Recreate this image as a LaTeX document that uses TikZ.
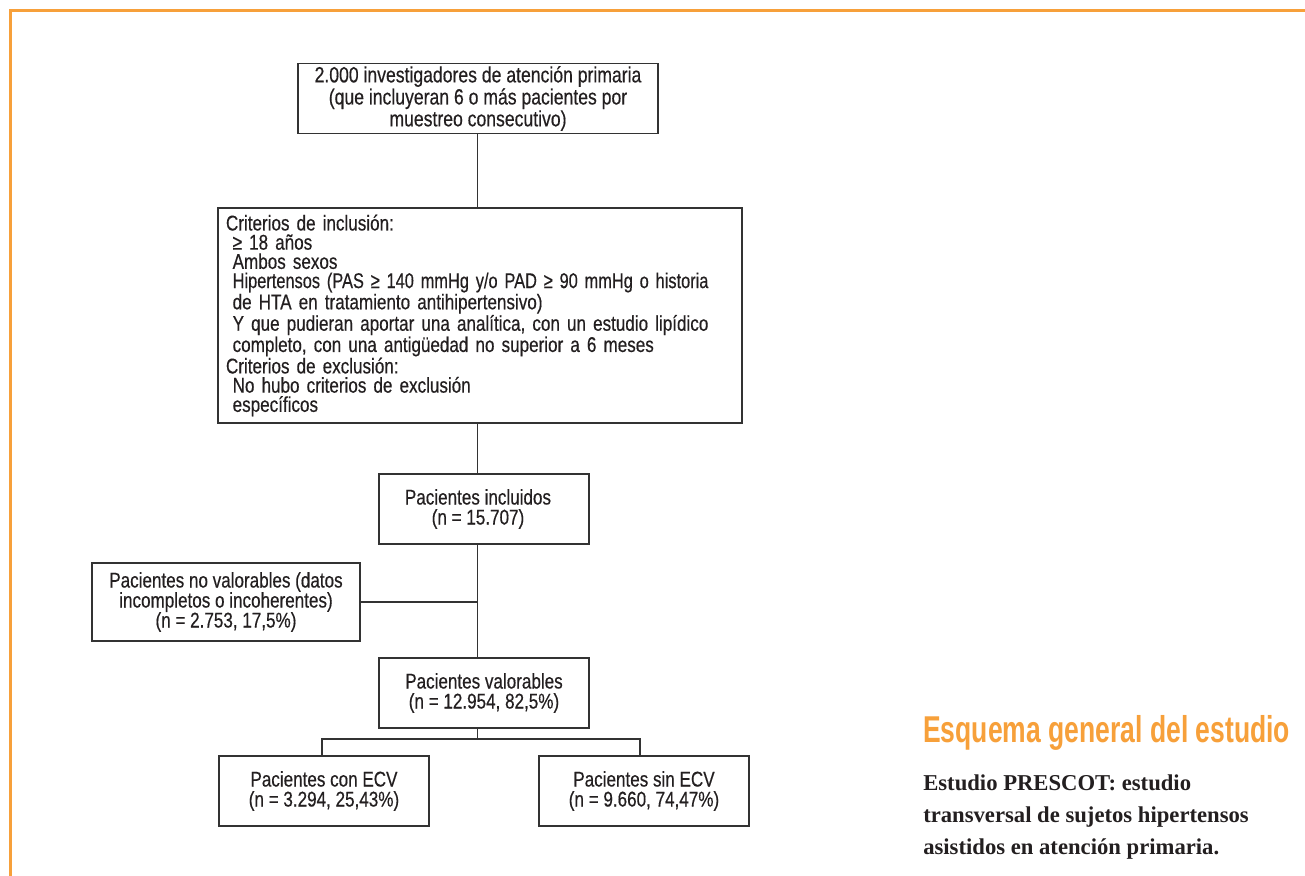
\documentclass[tikz,border=0pt]{standalone}
\usepackage{fontspec}
\setmainfont[FakeStretch=0.8,FakeBold=0.4]{Liberation Sans}
\newfontfamily\titlefont[FakeStretch=0.71]{Liberation Sans}
\newfontfamily\bodyfont{Liberation Serif}
\definecolor{orangeA}{HTML}{F7A03A}
\definecolor{boxline}{HTML}{333333}
\definecolor{inktext}{HTML}{231F20}
\begin{document}
\begin{tikzpicture}[x=0.75pt,y=-0.75pt,
  box/.style={draw=boxline, line width=1pt, inner sep=0pt, align=center,
    text=inktext, font=\fontsize{16}{15}\selectfont},
  link/.style={draw=boxline, line width=1pt},
  titletext/.style={text=orangeA, font=\titlefont\bfseries\fontsize{28}{30}\selectfont, inner sep=0pt},
  captext/.style={text=inktext, font=\bodyfont\bfseries\fontsize{17}{24}\selectfont, inner sep=0pt}]
\useasboundingbox (0,0) rectangle (1305,875);
\fill[white] (0,0) rectangle (1305,875);
\draw[orangeA, line width=2.25pt] (10,876) -- (10,10) -- (1306,10);

\coordinate (spine) at (477.5,0);

\node[box, font=\fontsize{16.5}{15}\selectfont, minimum width=270pt, minimum height=52.5pt] (top) at (478,98.5)
  {2.000 investigadores de atención primaria\\(que incluyeran 6 o más pacientes por\\muestreo consecutivo)};

\node[box, font=\fontsize{16}{14.4}\selectfont, minimum width=393pt, minimum height=161.25pt, inner xsep=6pt,
  text width=381pt, align=left] (crit) at (480,315.5)
  {Criterios de inclusión:\\
  \hspace*{5pt}≥ 18 años\\
  \hspace*{5pt}Ambos sexos\\
  \hspace*{5pt}\scalebox{0.96}[1]{Hipertensos (PAS ≥ 140 mmHg y/o PAD ≥ 90 mmHg o historia}\\
  \hspace*{5pt}de HTA en tratamiento antihipertensivo)\\
  \hspace*{5pt}Y que pudieran aportar una analítica, con un estudio lipídico\\
  \hspace*{5pt}completo, con una antigüedad no superior a 6 meses\\
  Criterios de exclusión:\\
  \hspace*{5pt}No hubo criterios de exclusión\\
  \hspace*{5pt}específicos};

\node[box, minimum width=157.5pt, minimum height=52.5pt] (incl) at (484,509)
  {Pacientes incluidos\hspace*{9pt}\\(n = 15.707)\hspace*{9pt}};

\node[box, minimum width=201pt, minimum height=58.5pt] (noval) at (226,602)
  {Pacientes no valorables (datos\\incompletos o incoherentes)\\(n = 2.753, 17,5\%)};

\node[box, minimum width=157.5pt, minimum height=52.5pt] (val) at (484,693)
  {Pacientes valorables\\(n = 12.954, 82,5\%)};

\node[box, minimum width=157.5pt, minimum height=52.5pt] (con) at (324,791)
  {Pacientes con ECV\\(n = 3.294, 25,43\%)};

\node[box, minimum width=157.5pt, minimum height=52.5pt] (sin) at (644,791)
  {Pacientes sin ECV\\(n = 9.660, 74,47\%)};

\coordinate (split) at (477.5,739);
\coordinate (joinL) at (322,739);
\coordinate (joinR) at (640,739);

\draw[link] (spine |- top.south) -- (spine |- crit.north);
\draw[link] (spine |- crit.south) -- (spine |- incl.north);
\draw[link] (spine |- incl.south) -- (spine |- val.north);
\draw[link] (noval.east) -- (spine |- noval.east);
\draw[link] (spine |- val.south) -- (split);
\draw[link] (joinL |- con.north) -- (joinL) -- (joinR) -- (joinR |- sin.north);

\node[titletext, anchor=base west] (title) at (923,742) {Esquema general del estudio};
\node[captext, anchor=base west] (cap1) at (923,790) {Estudio PRESCOT: estudio};
\node[captext, anchor=base west] (cap2) at (923,822) {transversal de sujetos hipertensos};
\node[captext, anchor=base west] (cap3) at (923,854) {asistidos en atención primaria.};
\end{tikzpicture}
\end{document}
